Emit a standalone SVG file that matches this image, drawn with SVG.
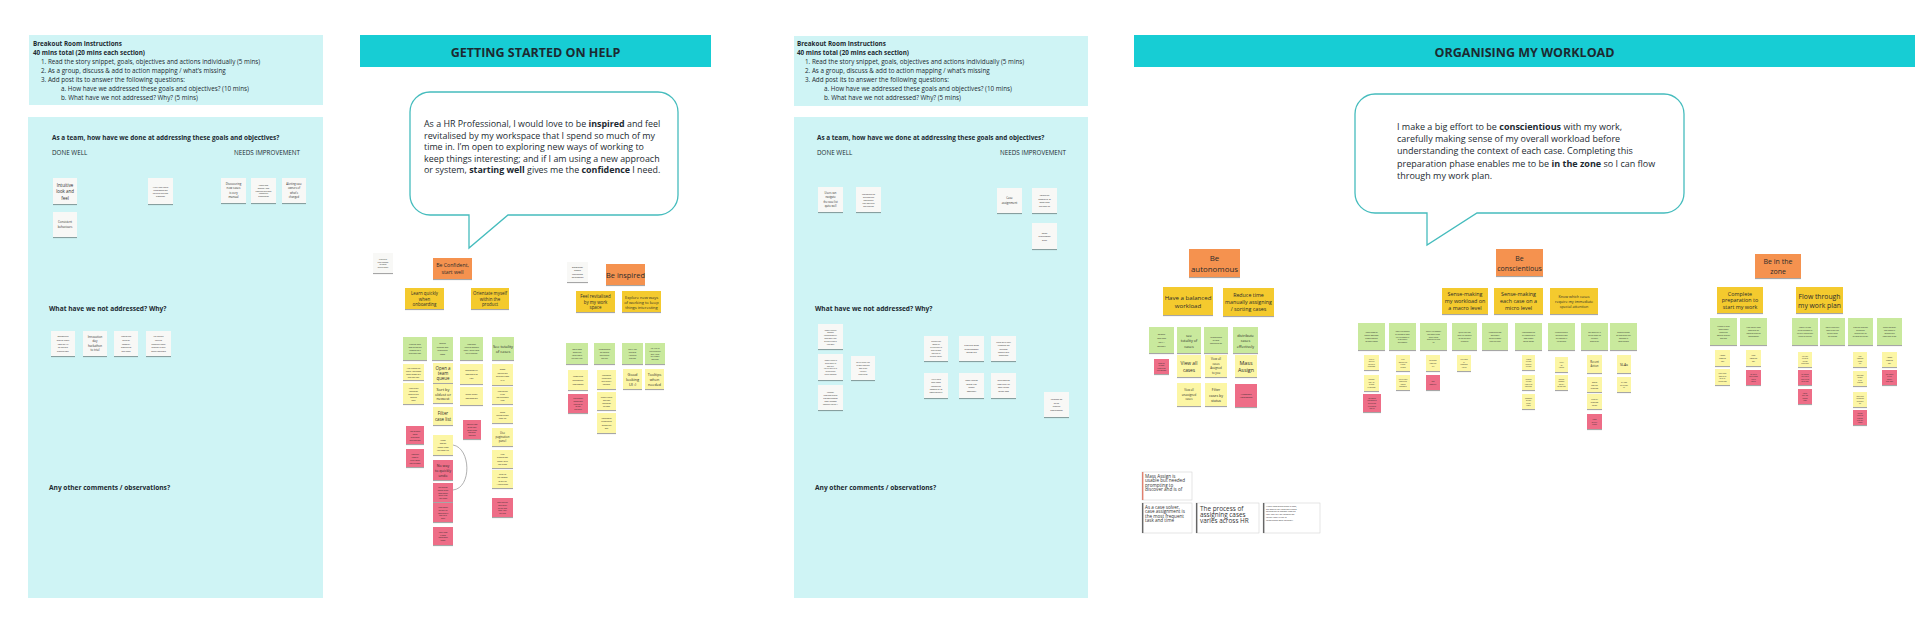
<svg xmlns="http://www.w3.org/2000/svg" width="1920" height="618" viewBox="0 0 1920 618">
<defs>
<filter id="sh" x="-30%" y="-30%" width="160%" height="170%"><feDropShadow dx="0" dy="1.1" stdDeviation="0.7" flood-color="#000" flood-opacity="0.35"/></filter>
<style>
text{font-family:"Open Sans","Noto Sans",sans-serif;fill:#1c2a31}
.b{font-weight:700}
.panel{fill:#cff4f5}
.banner{fill:#17cdd4}
.bub{fill:#fff;stroke:#45bcbd;stroke-width:1.3}
.n rect{filter:url(#sh)}
.n text{text-anchor:middle;dominant-baseline:central;fill:#2b2b2b}
.w{fill:#f8f8f6}
.o{fill:#f5924f}
.y{fill:#f4ca2e}
.g{fill:#c9e99d}
.p{fill:#fcf6a5}
.r{fill:#ee6d87}
.bn rect.box{fill:#fff;stroke:#d4d4d4;stroke-width:0.6}
.bn text{dominant-baseline:central;fill:#333}
.conn{fill:none;stroke:#9c9c9c;stroke-width:0.8}
</style>
</defs>
<rect width="1920" height="618" fill="#fff"/>

<!-- Panel 1 -->
<g id="panel1">
<rect class="panel" x="29" y="35" width="294" height="70"/>
<text font-size="6.3"><tspan class="b" x="33" y="46">Breakout Room Instructions</tspan><tspan class="b" x="33" y="55">40 mins total (20 mins each section)</tspan><tspan x="41" y="64">1. Read the story snippet, goals, objectives and actions individually (5 mins)</tspan><tspan x="41" y="73">2. As a group, discuss &amp; add to action mapping / what’s missing</tspan><tspan x="41" y="82">3. Add post its to answer the following questions:</tspan><tspan x="61" y="91">a. How have we addressed these goals and objectives? (10 mins)</tspan><tspan x="61" y="100">b. What have we not addressed? Why? (5 mins)</tspan></text>
<rect class="panel" x="28" y="117" width="295" height="481"/>
<text class="b" x="52" y="140.3" font-size="6.4">As a team, how have we done at addressing these goals and objectives?</text>
<text x="52" y="154.8" font-size="6.3">DONE WELL</text>
<text x="234" y="154.8" font-size="6.3">NEEDS IMPROVEMENT</text>
<text class="b" x="49" y="310.5" font-size="6.6">What have we not addressed? Why?</text>
<text class="b" x="49" y="489.9" font-size="6.6">Any other comments / observations?</text>
</g>

<g id="n1" class="n"><rect class="w" x="53" y="178" width="24" height="26"/><text x="65" y="184.5" font-size="4.4"><tspan x="65">Intuitive</tspan><tspan x="65" dy="6.5">look and</tspan><tspan x="65" dy="6.5">feel</tspan></text></g>
<g id="n2" class="n"><rect class="w" x="53" y="212" width="24" height="25"/><text x="65" y="222" font-size="2.8"><tspan x="65">Consistent</tspan><tspan x="65" dy="5">behaviours</tspan></text></g>
<g id="n3" class="n"><rect class="w" x="148" y="178" width="25" height="26"/><text x="160.5" y="186.5" font-size="2"><tspan x="160.5">HMW help users</tspan><tspan x="160.5" dy="3">understand the</tspan><tspan x="160.5" dy="3">value of the new</tspan><tspan x="160.5" dy="3">platform?</tspan></text></g>
<g id="n4" class="n"><rect class="w" x="221" y="178" width="25" height="25"/><text x="233.5" y="183.75" font-size="2.9"><tspan x="233.5">Discovering</tspan><tspan x="233.5" dy="4.5">new cases</tspan><tspan x="233.5" dy="4.5">is very</tspan><tspan x="233.5" dy="4.5">manual</tspan></text></g>
<g id="n5" class="n"><rect class="w" x="251" y="178" width="25" height="25"/><text x="263.5" y="184.9" font-size="1.8"><tspan x="263.5">Notice new</tspan><tspan x="263.5" dy="2.8">content / new</tspan><tspan x="263.5" dy="2.8">captured and need</tspan><tspan x="263.5" dy="2.8">removal of</tspan><tspan x="263.5" dy="2.8">investigation</tspan></text></g>
<g id="n6" class="n"><rect class="w" x="282" y="178" width="24" height="25"/><text x="294" y="184.05" font-size="2.6"><tspan x="294">Alerting case</tspan><tspan x="294" dy="4.3">owners of</tspan><tspan x="294" dy="4.3">what's</tspan><tspan x="294" dy="4.3">changed</tspan></text></g>
<g id="n7" class="n"><rect class="w" x="51" y="331" width="24" height="25"/><text x="63" y="336.1" font-size="2"><tspan x="63">Onboarding</tspan><tspan x="63" dy="3.7">overlay that's</tspan><tspan x="63" dy="3.7">used on HP</tspan><tspan x="63" dy="3.7">to use as a</tspan><tspan x="63" dy="3.7">product tour</tspan></text></g>
<g id="n8" class="n"><rect class="w" x="83" y="331" width="24" height="25"/><text x="95" y="336.75" font-size="2.9"><tspan x="95">Innovation</tspan><tspan x="95" dy="4.5">day</tspan><tspan x="95" dy="4.5">hackathon</tspan><tspan x="95" dy="4.5">to trial</tspan></text></g>
<g id="n9" class="n"><rect class="w" x="114" y="331" width="24" height="25"/><text x="126" y="336.1" font-size="2"><tspan x="126">Market the</tspan><tspan x="126" dy="3.7">value of</tspan><tspan x="126" dy="3.7">complex</tspan><tspan x="126" dy="3.7">features to</tspan><tspan x="126" dy="3.7">end users</tspan></text></g>
<g id="n10" class="n"><rect class="w" x="146" y="331" width="25" height="25"/><text x="158.5" y="336.3" font-size="1.9"><tspan x="158.5">Call out the</tspan><tspan x="158.5" dy="3.6">value of</tspan><tspan x="158.5" dy="3.6">seemingly small</tspan><tspan x="158.5" dy="3.6">features in their</tspan><tspan x="158.5" dy="3.6">overall workload</tspan></text></g>

<!-- Panel 2 -->
<g id="panel2">
<rect class="banner" x="360" y="35" width="351" height="32"/>
<text class="b" x="535.5" y="56.5" font-size="12.5" text-anchor="middle" fill="#1c2a31">GETTING STARTED ON HELP</text>
<path class="bub" d="M430,92 H658 A20,20 0 0 1 678,112 V195 A20,20 0 0 1 658,215 H508 L469,248 V215 H430 A20,20 0 0 1 410,195 V112 A20,20 0 0 1 430,92 Z"/>
<text font-size="8.9"><tspan x="424" y="127.4">As a HR Professional, I would love to be <tspan class="b">inspired</tspan> and feel</tspan><tspan x="424" y="139">revitalised by my workspace that I spend so much of my</tspan><tspan x="424" y="150.4">time in. I’m open to exploring new ways of working to</tspan><tspan x="424" y="161.8">keep things interesting; and if I am using a new approach</tspan><tspan x="424" y="173.1">or system, <tspan class="b">starting well</tspan> gives me the <tspan class="b">confidence</tspan> I need.</tspan></text>
</g>

<g id="n11" class="n"><rect class="w" x="373" y="253" width="20" height="20"/><text x="383" y="258.8" font-size="1.6"><tspan x="383">Lifecycle of</tspan><tspan x="383" dy="2.8">case/customer</tspan><tspan x="383" dy="2.8">as Design</tspan><tspan x="383" dy="2.8">service design</tspan></text></g>
<g id="n12" class="n"><rect class="o" x="433" y="258" width="39" height="21"/><text x="452.5" y="265.25" font-size="5.2"><tspan x="452.5">Be Confident,</tspan><tspan x="452.5" dy="6.5">start well</tspan></text></g>
<g id="n13" class="n"><rect class="y" x="405" y="288" width="39" height="21"/><text x="424.5" y="293" font-size="4.4"><tspan x="424.5">Learn quickly</tspan><tspan x="424.5" dy="5.5">when</tspan><tspan x="424.5" dy="5.5">onboarding</tspan></text></g>
<g id="n14" class="n"><rect class="y" x="471" y="288" width="38" height="21"/><text x="490" y="293" font-size="4.4"><tspan x="490">Orientate myself</tspan><tspan x="490" dy="5.5">within the</tspan><tspan x="490" dy="5.5">product</tspan></text></g>
<g id="n15" class="n"><rect class="w" x="567" y="262" width="21" height="20"/><text x="577.5" y="266.75" font-size="2.3"><tspan x="577.5">Emotional</tspan><tspan x="577.5" dy="3.5">design</tspan><tspan x="577.5" dy="3.5">influences</tspan><tspan x="577.5" dy="3.5">perception</tspan></text></g>
<g id="n16" class="n"><rect class="o" x="606" y="264" width="39" height="21"/><text x="625.5" y="274.5" font-size="7.4">Be inspired</text></g>
<g id="n17" class="n"><rect class="y" x="576" y="291" width="39" height="21"/><text x="595.5" y="296" font-size="4.4"><tspan x="595.5">Feel revitalised</tspan><tspan x="595.5" dy="5.5">by my work</tspan><tspan x="595.5" dy="5.5">space</tspan></text></g>
<g id="n18" class="n"><rect class="y" x="622" y="291" width="39" height="21"/><text x="641.5" y="296.5" font-size="4"><tspan x="641.5">Explore new ways</tspan><tspan x="641.5" dy="5">of working to keep</tspan><tspan x="641.5" dy="5">things interesting</tspan></text></g>
<g id="n19" class="n"><rect class="g" x="403" y="337" width="24" height="23"/><text x="415" y="343.55" font-size="1.9"><tspan x="415">Need to learn</tspan><tspan x="415" dy="3.3">how to use the</tspan><tspan x="415" dy="3.3">product as a</tspan><tspan x="415" dy="3.3">first time user</tspan></text></g>
<g id="n20" class="n"><rect class="g" x="432" y="337" width="21" height="23"/><text x="442.5" y="343.25" font-size="2"><tspan x="442.5">Sorting</tspan><tspan x="442.5" dy="3.5">through and</tspan><tspan x="442.5" dy="3.5">prioritising</tspan><tspan x="442.5" dy="3.5">cases</tspan></text></g>
<g id="n21" class="n"><rect class="g" x="460" y="337" width="23" height="23"/><text x="471.5" y="344" font-size="1.7"><tspan x="471.5">Know what</tspan><tspan x="471.5" dy="3">I need to complete</tspan><tspan x="471.5" dy="3">today / which cases</tspan><tspan x="471.5" dy="3">are in progress</tspan></text></g>
<g id="n22" class="n"><rect class="g" x="492" y="337" width="22" height="23"/><text x="503" y="346" font-size="3.9"><tspan x="503">See totality</tspan><tspan x="503" dy="5">of cases</tspan></text></g>
<g id="n23" class="n"><rect class="p" x="403" y="364" width="21" height="16"/><text x="413.5" y="367.5" font-size="1.8"><tspan x="413.5">Hint: change the</tspan><tspan x="413.5" dy="3">layout / navigation</tspan><tspan x="413.5" dy="3">when shown to a</tspan><tspan x="413.5" dy="3">first time user</tspan></text></g>
<g id="n24" class="n"><rect class="p" x="403" y="383" width="21" height="21"/><text x="413.5" y="387.5" font-size="1.8"><tspan x="413.5">View layout</tspan><tspan x="413.5" dy="3">navigation</tspan><tspan x="413.5" dy="3">when on the</tspan><tspan x="413.5" dy="3">settings</tspan><tspan x="413.5" dy="3">page</tspan></text></g>
<g id="n25" class="n"><rect class="r" x="406" y="426" width="18" height="18"/><text x="415" y="430.5" font-size="1.8"><tspan x="415">Not obvious</tspan><tspan x="415" dy="3">cases</tspan><tspan x="415" dy="3">prioritised</tspan><tspan x="415" dy="3">and archived</tspan></text></g>
<g id="n26" class="n"><rect class="r" x="406" y="449" width="18" height="18"/><text x="415" y="453.5" font-size="1.8"><tspan x="415">Assigning</tspan><tspan x="415" dy="3">cases is</tspan><tspan x="415" dy="3">tricky when</tspan><tspan x="415" dy="3">not reviewed</tspan></text></g>
<g id="n27" class="n"><rect class="p" x="433" y="363" width="20" height="20"/><text x="443" y="367.8" font-size="4.4"><tspan x="443">Open a</tspan><tspan x="443" dy="5.2">team</tspan><tspan x="443" dy="5.2">queue</tspan></text></g>
<g id="n28" class="n"><rect class="p" x="433" y="384" width="20" height="19"/><text x="443" y="388.7" font-size="3.9"><tspan x="443">Sort by</tspan><tspan x="443" dy="4.8">oldest or</tspan><tspan x="443" dy="4.8">newest</tspan></text></g>
<g id="n29" class="n"><rect class="p" x="433" y="407" width="20" height="18"/><text x="443" y="413.25" font-size="4.4"><tspan x="443">Filter</tspan><tspan x="443" dy="5.5">case list</tspan></text></g>
<g id="n30" class="n"><rect class="p" x="433" y="435" width="20" height="20"/><text x="443" y="439.75" font-size="2.2"><tspan x="443">Mass</tspan><tspan x="443" dy="3.5">assign</tspan><tspan x="443" dy="3.5">cases from</tspan><tspan x="443" dy="3.5">the case list</tspan></text></g>
<g id="n31" class="n"><rect class="r" x="433" y="460" width="20" height="20"/><text x="443" y="465.4" font-size="3.6"><tspan x="443">No way</tspan><tspan x="443" dy="4.6">to quickly</tspan><tspan x="443" dy="4.6">undo</tspan></text></g>
<g id="n32" class="n"><rect class="r" x="433" y="483" width="20" height="19"/><text x="443" y="486.9" font-size="1.7"><tspan x="443">Not enough</tspan><tspan x="443" dy="2.8">control of the</tspan><tspan x="443" dy="2.8">mass assign</tspan><tspan x="443" dy="2.8">which is for</tspan><tspan x="443" dy="2.8">rare cases</tspan></text></g>
<g id="n33" class="n"><rect class="r" x="433" y="503" width="20" height="19"/><text x="443" y="506.9" font-size="1.7"><tspan x="443">Mass assign</tspan><tspan x="443" dy="2.8">can only be</tspan><tspan x="443" dy="2.8">done when a</tspan><tspan x="443" dy="2.8">case list is</tspan><tspan x="443" dy="2.8">open</tspan></text></g>
<g id="n34" class="n"><rect class="r" x="433" y="527" width="20" height="18"/><text x="443" y="531.8" font-size="1.7"><tspan x="443">Can't undo</tspan><tspan x="443" dy="2.8">a mass</tspan><tspan x="443" dy="2.8">assignment</tspan><tspan x="443" dy="2.8">action</tspan></text></g>
<g id="n35" class="n"><rect class="p" x="460" y="364" width="23" height="20"/><text x="471.5" y="370.2" font-size="2.3"><tspan x="471.5">Segment by</tspan><tspan x="471.5" dy="3.8">assigned to</tspan><tspan x="471.5" dy="3.8">you</tspan></text></g>
<g id="n36" class="n"><rect class="p" x="460" y="387" width="23" height="18"/><text x="471.5" y="394.1" font-size="2.3"><tspan x="471.5">Read inbox</tspan><tspan x="471.5" dy="3.8">notification</tspan></text></g>
<g id="n37" class="n"><rect class="r" x="463" y="420" width="18" height="19"/><text x="472" y="423.9" font-size="1.7"><tspan x="472">Not sure how</tspan><tspan x="472" dy="2.8">to get back</tspan><tspan x="472" dy="2.8">to see items</tspan><tspan x="472" dy="2.8">that were</tspan><tspan x="472" dy="2.8">assigned</tspan></text></g>
<g id="n38" class="n"><rect class="p" x="492" y="364" width="21" height="21"/><text x="502.5" y="369.1" font-size="2.2"><tspan x="502.5">Show</tspan><tspan x="502.5" dy="3.6">counts on</tspan><tspan x="502.5" dy="3.6">queues from</tspan><tspan x="502.5" dy="3.6">LHP</tspan></text></g>
<g id="n39" class="n"><rect class="p" x="492" y="387" width="21" height="17"/><text x="502.5" y="391" font-size="1.8"><tspan x="502.5">View counts</tspan><tspan x="502.5" dy="3">in the</tspan><tspan x="502.5" dy="3">top navigation</tspan><tspan x="502.5" dy="3">view</tspan></text></g>
<g id="n40" class="n"><rect class="p" x="492" y="407" width="21" height="16"/><text x="502.5" y="411.6" font-size="2"><tspan x="502.5">Show</tspan><tspan x="502.5" dy="3.4">counts above</tspan><tspan x="502.5" dy="3.4">case list</tspan></text></g>
<g id="n41" class="n"><rect class="p" x="492" y="428" width="21" height="18"/><text x="502.5" y="432.8" font-size="2.8"><tspan x="502.5">Use</tspan><tspan x="502.5" dy="4.2">pagination</tspan><tspan x="502.5" dy="4.2">panel</tspan></text></g>
<g id="n42" class="n"><rect class="p" x="492" y="450" width="21" height="18"/><text x="502.5" y="453.75" font-size="2.2"><tspan x="502.5">Use</tspan><tspan x="502.5" dy="3.5">pagination</tspan><tspan x="502.5" dy="3.5">panel with</tspan><tspan x="502.5" dy="3.5">last page</tspan></text></g>
<g id="n43" class="n"><rect class="p" x="492" y="470" width="21" height="18"/><text x="502.5" y="474.2" font-size="1.9"><tspan x="502.5">Scroll to</tspan><tspan x="502.5" dy="3.2">the bottom</tspan><tspan x="502.5" dy="3.2">of the list</tspan><tspan x="502.5" dy="3.2">/ Count page</tspan></text></g>
<g id="n44" class="n"><rect class="r" x="492" y="498" width="21" height="19"/><text x="502.5" y="501.9" font-size="1.7"><tspan x="502.5">Don't see the</tspan><tspan x="502.5" dy="2.8">total count</tspan><tspan x="502.5" dy="2.8">on the case</tspan><tspan x="502.5" dy="2.8">page / only</tspan><tspan x="502.5" dy="2.8">per view</tspan></text></g>
<g id="n45" class="n"><rect class="g" x="566" y="343" width="22" height="21"/><text x="577" y="349" font-size="1.7"><tspan x="577">Lots of good</tspan><tspan x="577" dy="3">design and</tspan><tspan x="577" dy="3">use of colour</tspan><tspan x="577" dy="3">are really nice</tspan></text></g>
<g id="n46" class="n"><rect class="g" x="594" y="343" width="21" height="21"/><text x="604.5" y="349" font-size="1.7"><tspan x="604.5">Understanding</tspan><tspan x="604.5" dy="3">the product</tspan><tspan x="604.5" dy="3">overview on</tspan><tspan x="604.5" dy="3">first visit</tspan></text></g>
<g id="n47" class="n"><rect class="g" x="622" y="343" width="21" height="21"/><text x="632.5" y="349" font-size="1.7"><tspan x="632.5">See if I can</tspan><tspan x="632.5" dy="3">find what</tspan><tspan x="632.5" dy="3">I need the</tspan><tspan x="632.5" dy="3">first time</tspan></text></g>
<g id="n48" class="n"><rect class="g" x="645" y="343" width="20" height="21"/><text x="655" y="347.9" font-size="1.6"><tspan x="655">Am I able to</tspan><tspan x="655" dy="2.8">find and search</tspan><tspan x="655" dy="2.8">what I need</tspan><tspan x="655" dy="2.8">for a simple</tspan><tspan x="655" dy="2.8">workflow</tspan></text></g>
<g id="n49" class="n"><rect class="p" x="568" y="370" width="20" height="20"/><text x="578" y="376.4" font-size="2"><tspan x="578">Contextual</tspan><tspan x="578" dy="3.6">onboarding</tspan><tspan x="578" dy="3.6">information</tspan></text></g>
<g id="n50" class="n"><rect class="r" x="568" y="394" width="20" height="19"/><text x="578" y="397.9" font-size="1.7"><tspan x="578">The product</tspan><tspan x="578" dy="2.8">onboarding</tspan><tspan x="578" dy="2.8">requires us</tspan><tspan x="578" dy="2.8">to test</tspan><tspan x="578" dy="2.8">and learn</tspan></text></g>
<g id="n51" class="n"><rect class="p" x="597" y="370" width="19" height="19"/><text x="606.5" y="375" font-size="1.8"><tspan x="606.5">Consistent</tspan><tspan x="606.5" dy="3">behaviours</tspan><tspan x="606.5" dy="3">and visually</tspan><tspan x="606.5" dy="3">cohesive</tspan></text></g>
<g id="n52" class="n"><rect class="p" x="597" y="392" width="19" height="18"/><text x="606.5" y="396.5" font-size="1.8"><tspan x="606.5">Simple layout</tspan><tspan x="606.5" dy="3">with fast</tspan><tspan x="606.5" dy="3">navigation</tspan><tspan x="606.5" dy="3">to cases</tspan></text></g>
<g id="n53" class="n"><rect class="p" x="597" y="413" width="19" height="20"/><text x="606.5" y="417.9" font-size="2"><tspan x="606.5">Consistent</tspan><tspan x="606.5" dy="3.4">behaviours</tspan><tspan x="606.5" dy="3.4">across the</tspan><tspan x="606.5" dy="3.4">app</tspan></text></g>
<g id="n54" class="n"><rect class="p" x="623" y="369" width="19" height="20"/><text x="632.5" y="374.3" font-size="3.9"><tspan x="632.5">Good</tspan><tspan x="632.5" dy="4.7">looking</tspan><tspan x="632.5" dy="4.7">UI :)</tspan></text></g>
<g id="n55" class="n"><rect class="p" x="645" y="369" width="19" height="20"/><text x="654.5" y="374.3" font-size="3.7"><tspan x="654.5">Tooltips</tspan><tspan x="654.5" dy="4.7">when</tspan><tspan x="654.5" dy="4.7">needed</tspan></text></g>

<!-- Panel 3 -->
<g id="panel3">
<rect class="panel" x="794" y="36" width="294" height="70"/>
<text font-size="6.3"><tspan class="b" x="797" y="46">Breakout Room Instructions</tspan><tspan class="b" x="797" y="55">40 mins total (20 mins each section)</tspan><tspan x="805" y="64">1. Read the story snippet, goals, objectives and actions individually (5 mins)</tspan><tspan x="805" y="73">2. As a group, discuss &amp; add to action mapping / what’s missing</tspan><tspan x="805" y="82">3. Add post its to answer the following questions:</tspan><tspan x="824" y="91">a. How have we addressed these goals and objectives? (10 mins)</tspan><tspan x="824" y="100">b. What have we not addressed? Why? (5 mins)</tspan></text>
<rect class="panel" x="794" y="117" width="294" height="481"/>
<text class="b" x="817" y="140.3" font-size="6.4">As a team, how have we done at addressing these goals and objectives?</text>
<text x="817" y="154.6" font-size="6.3">DONE WELL</text>
<text x="1000" y="154.6" font-size="6.3">NEEDS IMPROVEMENT</text>
<text class="b" x="815" y="310.5" font-size="6.6">What have we not addressed? Why?</text>
<text class="b" x="815" y="489.9" font-size="6.6">Any other comments / observations?</text>
</g>

<g id="n56" class="n"><rect class="w" x="818" y="187" width="25" height="25"/><text x="830.5" y="193.2" font-size="2.6"><tspan x="830.5">Users can</tspan><tspan x="830.5" dy="4.2">navigate</tspan><tspan x="830.5" dy="4.2">the case list</tspan><tspan x="830.5" dy="4.2">quite well</tspan></text></g>
<g id="n57" class="n"><rect class="w" x="856" y="187" width="25" height="25"/><text x="868.5" y="193.5" font-size="1.7"><tspan x="868.5">Case owners can</tspan><tspan x="868.5" dy="3">find cases and</tspan><tspan x="868.5" dy="3">flow through</tspan><tspan x="868.5" dy="3">their work plan</tspan><tspan x="868.5" dy="3">with ease too</tspan></text></g>
<g id="n58" class="n"><rect class="w" x="997" y="188" width="25" height="25"/><text x="1009.5" y="198.25" font-size="2.9"><tspan x="1009.5">Case</tspan><tspan x="1009.5" dy="4.5">assignment</tspan></text></g>
<g id="n59" class="n"><rect class="w" x="1032" y="188" width="25" height="25"/><text x="1044.5" y="195.25" font-size="2"><tspan x="1044.5">Identifying</tspan><tspan x="1044.5" dy="3.5">complexity of</tspan><tspan x="1044.5" dy="3.5">cases from</tspan><tspan x="1044.5" dy="3.5">the case list</tspan></text></g>
<g id="n60" class="n"><rect class="w" x="1032" y="223" width="25" height="26"/><text x="1044.5" y="232.5" font-size="2"><tspan x="1044.5">Smart</tspan><tspan x="1044.5" dy="3.5">prioritisation</tspan><tspan x="1044.5" dy="3.5">order</tspan></text></g>
<g id="n61" class="n"><rect class="w" x="818" y="324" width="25" height="25"/><text x="830.5" y="329.5" font-size="1.5"><tspan x="830.5">Agnostic lenses of</tspan><tspan x="830.5" dy="2.8">workload</tspan><tspan x="830.5" dy="2.8">Managing goals by</tspan><tspan x="830.5" dy="2.8">workflow &amp; tasks</tspan><tspan x="830.5" dy="2.8">Existing system to</tspan><tspan x="830.5" dy="2.8">track work</tspan></text></g>
<g id="n62" class="n"><rect class="w" x="818" y="354" width="25" height="26"/><text x="830.5" y="360" font-size="1.5"><tspan x="830.5">Agnostic lenses to</tspan><tspan x="830.5" dy="2.8">decide where to</tspan><tspan x="830.5" dy="2.8">work next</tspan><tspan x="830.5" dy="2.8">Use the case list as</tspan><tspan x="830.5" dy="2.8">an overview of</tspan><tspan x="830.5" dy="2.8">current workload</tspan></text></g>
<g id="n63" class="n"><rect class="w" x="818" y="385" width="25" height="25"/><text x="830.5" y="391.5" font-size="1.7"><tspan x="830.5">Manager</tspan><tspan x="830.5" dy="3">resolution should</tspan><tspan x="830.5" dy="3">also work towards</tspan><tspan x="830.5" dy="3">fewer handoffs</tspan><tspan x="830.5" dy="3">especially for tier 1</tspan></text></g>
<g id="n64" class="n"><rect class="w" x="851" y="356" width="24" height="24"/><text x="863" y="362" font-size="1.5"><tspan x="863">See the easiest task</tspan><tspan x="863" dy="3">or most rewarding</tspan><tspan x="863" dy="3">work to do?</tspan><tspan x="863" dy="3">Help with</tspan><tspan x="863" dy="3">prioritisation</tspan></text></g>
<g id="n65" class="n"><rect class="w" x="924" y="336" width="24" height="25"/><text x="936" y="341.25" font-size="1.5"><tspan x="936">Guidance and</tspan><tspan x="936" dy="2.9">looking for</tspan><tspan x="936" dy="2.9">different ways to</tspan><tspan x="936" dy="2.9">prioritise work</tspan><tspan x="936" dy="2.9">flow: case list</tspan><tspan x="936" dy="2.9">business urgency</tspan></text></g>
<g id="n66" class="n"><rect class="w" x="959" y="336" width="25" height="25"/><text x="971.5" y="344.7" font-size="2.3"><tspan x="971.5">Find out what</tspan><tspan x="971.5" dy="3.8">prioritisation</tspan><tspan x="971.5" dy="3.8">needs are</tspan></text></g>
<g id="n67" class="n"><rect class="w" x="991" y="336" width="25" height="25"/><text x="1003.5" y="341.7" font-size="2.1"><tspan x="1003.5">Links with user</tspan><tspan x="1003.5" dy="3.4">feedback on</tspan><tspan x="1003.5" dy="3.4">needing</tspan><tspan x="1003.5" dy="3.4">signals and</tspan><tspan x="1003.5" dy="3.4">indicators</tspan></text></g>
<g id="n68" class="n"><rect class="w" x="924" y="373" width="24" height="25"/><text x="936" y="378.7" font-size="2"><tspan x="936">HMW help</tspan><tspan x="936" dy="3.4">with users</tspan><tspan x="936" dy="3.4">identifying</tspan><tspan x="936" dy="3.4">complexity of</tspan><tspan x="936" dy="3.4">cases quickly?</tspan></text></g>
<g id="n69" class="n"><rect class="w" x="959" y="373" width="25" height="25"/><text x="971.5" y="379.8" font-size="2.3"><tspan x="971.5">Case linking</tspan><tspan x="971.5" dy="3.8">might link</tspan><tspan x="971.5" dy="3.8">these</tspan><tspan x="971.5" dy="3.8">together</tspan></text></g>
<g id="n70" class="n"><rect class="w" x="991" y="373" width="25" height="25"/><text x="1003.5" y="380.1" font-size="2.1"><tspan x="1003.5">Determining</tspan><tspan x="1003.5" dy="3.6">from case list</tspan><tspan x="1003.5" dy="3.6">what needs</tspan><tspan x="1003.5" dy="3.6">action now</tspan></text></g>
<g id="n71" class="n"><rect class="w" x="1044" y="392" width="25" height="25"/><text x="1056.5" y="399.25" font-size="2"><tspan x="1056.5">Leverage SG</tspan><tspan x="1056.5" dy="3.5">as big</tspan><tspan x="1056.5" dy="3.5">product</tspan><tspan x="1056.5" dy="3.5">differentiator</tspan></text></g>

<!-- Panel 4 -->
<g id="panel4">
<rect class="banner" x="1134" y="35" width="781" height="32"/>
<text class="b" x="1524.5" y="56.5" font-size="12.5" text-anchor="middle">ORGANISING MY WORKLOAD</text>
<path class="bub" d="M1375,94 H1664 A20,20 0 0 1 1684,114 V193 A20,20 0 0 1 1664,213 H1477 L1427,245 V213 H1375 A20,20 0 0 1 1355,193 V114 A20,20 0 0 1 1375,94 Z"/>
<text font-size="9"><tspan x="1397" y="129.9">I make a big effort to be <tspan class="b">conscientious</tspan> with my work,</tspan><tspan x="1397" y="142.2">carefully making sense of my overall workload before</tspan><tspan x="1397" y="154.4">understanding the context of each case. Completing this</tspan><tspan x="1397" y="166.7">preparation phase enables me to be <tspan class="b">in the zone</tspan> so I can flow</tspan><tspan x="1397" y="179">through my work plan.</tspan></text>
</g>

<g id="n72" class="n"><rect class="o" x="1189" y="249" width="51" height="28"/><text x="1214.5" y="257.5" font-size="7.9"><tspan x="1214.5">Be</tspan><tspan x="1214.5" dy="11">autonomous</tspan></text></g>
<g id="n73" class="n"><rect class="y" x="1163" y="287" width="50" height="28"/><text x="1188" y="297.25" font-size="6.1"><tspan x="1188">Have a balanced</tspan><tspan x="1188" dy="7.5">workload</tspan></text></g>
<g id="n74" class="n"><rect class="y" x="1223" y="288" width="51" height="28"/><text x="1248.5" y="294.8" font-size="5.3"><tspan x="1248.5">Reduce time</tspan><tspan x="1248.5" dy="7.2">manually assigning</tspan><tspan x="1248.5" dy="7.2">/ sorting cases</tspan></text></g>
<g id="n75" class="n"><rect class="g" x="1149" y="327" width="25" height="26"/><text x="1161.5" y="334.3" font-size="2"><tspan x="1161.5">Balance</tspan><tspan x="1161.5" dy="3.8">case load</tspan><tspan x="1161.5" dy="3.8">fairly /</tspan><tspan x="1161.5" dy="3.8">equitably</tspan></text></g>
<g id="n76" class="n"><rect class="g" x="1177" y="327" width="24" height="26"/><text x="1189" y="334.5" font-size="3.7"><tspan x="1189">see</tspan><tspan x="1189" dy="5.5">totality of</tspan><tspan x="1189" dy="5.5">cases</tspan></text></g>
<g id="n77" class="n"><rect class="g" x="1204" y="327" width="24" height="26"/><text x="1216" y="337" font-size="1.7"><tspan x="1216">Understanding</tspan><tspan x="1216" dy="3">of cases</tspan><tspan x="1216" dy="3">assigned to me</tspan></text></g>
<g id="n78" class="n"><rect class="g" x="1233" y="327" width="25" height="26"/><text x="1245.5" y="334.5" font-size="3.7"><tspan x="1245.5">distribute</tspan><tspan x="1245.5" dy="5.5">cases</tspan><tspan x="1245.5" dy="5.5">effectively</tspan></text></g>
<g id="n79" class="n"><rect class="r" x="1154" y="359" width="15" height="15"/><text x="1161.5" y="362.9" font-size="1.4"><tspan x="1161.5">Important</tspan><tspan x="1161.5" dy="2.4">for some</tspan><tspan x="1161.5" dy="2.4">teams to see</tspan><tspan x="1161.5" dy="2.4">their workload</tspan></text></g>
<g id="n80" class="n"><rect class="p" x="1177" y="355" width="24" height="22"/><text x="1189" y="362.5" font-size="4.8"><tspan x="1189">View all</tspan><tspan x="1189" dy="7">cases</tspan></text></g>
<g id="n81" class="n"><rect class="p" x="1205" y="355" width="22" height="22"/><text x="1216" y="359.4" font-size="2.8"><tspan x="1216">View all</tspan><tspan x="1216" dy="4.4">cases</tspan><tspan x="1216" dy="4.4">Assigned</tspan><tspan x="1216" dy="4.4">to you</tspan></text></g>
<g id="n82" class="n"><rect class="p" x="1235" y="355" width="22" height="22"/><text x="1246" y="362.5" font-size="5.4"><tspan x="1246">Mass</tspan><tspan x="1246" dy="7">Assign</tspan></text></g>
<g id="n83" class="n"><rect class="p" x="1177" y="383" width="24" height="23"/><text x="1189" y="390.3" font-size="2.7"><tspan x="1189">View all</tspan><tspan x="1189" dy="4.2">unassigned</tspan><tspan x="1189" dy="4.2">cases</tspan></text></g>
<g id="n84" class="n"><rect class="p" x="1205" y="383" width="22" height="23"/><text x="1216" y="389.2" font-size="3.6"><tspan x="1216">Filter</tspan><tspan x="1216" dy="5.3">cases by</tspan><tspan x="1216" dy="5.3">status</tspan></text></g>
<g id="n85" class="n"><rect class="r" x="1235" y="384" width="22" height="23"/><text x="1246" y="393.7" font-size="2.3"><tspan x="1246">Automatic</tspan><tspan x="1246" dy="3.6">Assignment</tspan></text></g>
<g id="n86" class="n"><rect class="o" x="1496" y="249" width="47" height="27"/><text x="1519.5" y="257.5" font-size="7"><tspan x="1519.5">Be</tspan><tspan x="1519.5" dy="10">conscientious</tspan></text></g>
<g id="n87" class="n"><rect class="y" x="1442" y="288" width="46" height="26"/><text x="1465" y="294" font-size="5.4"><tspan x="1465">Sense-making</tspan><tspan x="1465" dy="7">my workload on</tspan><tspan x="1465" dy="7">a macro level</tspan></text></g>
<g id="n88" class="n"><rect class="y" x="1494" y="288" width="49" height="26"/><text x="1518.5" y="294" font-size="5.4"><tspan x="1518.5">Sense-making</tspan><tspan x="1518.5" dy="7">each case on a</tspan><tspan x="1518.5" dy="7">micro level</tspan></text></g>
<g id="n89" class="n"><rect class="y" x="1550" y="288" width="48" height="26"/><text x="1574" y="296" font-size="3.7"><tspan x="1574">Know which cases</tspan><tspan x="1574" dy="5">require my immediate</tspan><tspan x="1574" dy="5">special attention</tspan></text></g>
<g id="n90" class="n"><rect class="g" x="1358" y="323" width="27" height="27"/><text x="1371.5" y="331.55" font-size="1.8"><tspan x="1371.5">Make sense of</tspan><tspan x="1371.5" dy="3.3">overall workload</tspan><tspan x="1371.5" dy="3.3">before starting</tspan><tspan x="1371.5" dy="3.3">to tackle cases</tspan></text></g>
<g id="n91" class="n"><rect class="g" x="1389" y="323" width="27" height="27"/><text x="1402.5" y="330.7" font-size="1.6"><tspan x="1402.5">Identifying pockets</tspan><tspan x="1402.5" dy="2.9">or volumes of work</tspan><tspan x="1402.5" dy="2.9">that are coming in</tspan><tspan x="1402.5" dy="2.9">to my overall</tspan><tspan x="1402.5" dy="2.9">environment</tspan></text></g>
<g id="n92" class="n"><rect class="g" x="1420" y="323" width="27" height="27"/><text x="1433.5" y="330.7" font-size="1.6"><tspan x="1433.5">Identify the complex</tspan><tspan x="1433.5" dy="2.9">and simple cases</tspan><tspan x="1433.5" dy="2.9">quickly when</tspan><tspan x="1433.5" dy="2.9">scanning the case</tspan><tspan x="1433.5" dy="2.9">list</tspan></text></g>
<g id="n93" class="n"><rect class="g" x="1452" y="323" width="25" height="27"/><text x="1464.5" y="332.15" font-size="1.6"><tspan x="1464.5">Quickly see how</tspan><tspan x="1464.5" dy="2.9">many are assigned</tspan><tspan x="1464.5" dy="2.9">for me and what</tspan><tspan x="1464.5" dy="2.9">is pending</tspan></text></g>
<g id="n94" class="n"><rect class="g" x="1482" y="323" width="26" height="27"/><text x="1495" y="332.15" font-size="1.6"><tspan x="1495">Understand how</tspan><tspan x="1495" dy="2.9">workflow is</tspan><tspan x="1495" dy="2.9">spread between</tspan><tspan x="1495" dy="2.9">case and team</tspan></text></g>
<g id="n95" class="n"><rect class="g" x="1515" y="323" width="27" height="27"/><text x="1528.5" y="331.55" font-size="1.8"><tspan x="1528.5">Understand the</tspan><tspan x="1528.5" dy="3.3">full context of a</tspan><tspan x="1528.5" dy="3.3">case before</tspan><tspan x="1528.5" dy="3.3">taking action</tspan></text></g>
<g id="n96" class="n"><rect class="g" x="1548" y="323" width="27" height="27"/><text x="1561.5" y="332.15" font-size="1.6"><tspan x="1561.5">Understand what</tspan><tspan x="1561.5" dy="2.9">managers cases</tspan><tspan x="1561.5" dy="2.9">are assigned by</tspan><tspan x="1561.5" dy="2.9">the manager</tspan></text></g>
<g id="n97" class="n"><rect class="g" x="1581" y="323" width="27" height="27"/><text x="1594.5" y="331.7" font-size="1.7"><tspan x="1594.5">See where SLA's</tspan><tspan x="1594.5" dy="3.2">are on cases I'm</tspan><tspan x="1594.5" dy="3.2">currently</tspan><tspan x="1594.5" dy="3.2">working on</tspan></text></g>
<g id="n98" class="n"><rect class="g" x="1610" y="323" width="27" height="27"/><text x="1623.5" y="331.7" font-size="1.7"><tspan x="1623.5">Observe signals</tspan><tspan x="1623.5" dy="3.2">on case where any</tspan><tspan x="1623.5" dy="3.2">attention is</tspan><tspan x="1623.5" dy="3.2">most needed</tspan></text></g>
<g id="n99" class="n"><rect class="p" x="1364" y="355" width="15" height="15"/><text x="1371.5" y="358.75" font-size="1.4"><tspan x="1371.5">Filter by</tspan><tspan x="1371.5" dy="2.5">status to</tspan><tspan x="1371.5" dy="2.5">see active</tspan><tspan x="1371.5" dy="2.5">breakdown</tspan></text></g>
<g id="n100" class="n"><rect class="p" x="1364" y="375" width="15" height="16"/><text x="1371.5" y="379.25" font-size="1.4"><tspan x="1371.5">Grouped</tspan><tspan x="1371.5" dy="2.5">view / list</tspan><tspan x="1371.5" dy="2.5">of cases</tspan><tspan x="1371.5" dy="2.5">by workflow</tspan></text></g>
<g id="n101" class="n"><rect class="r" x="1363" y="394" width="18" height="18"/><text x="1372" y="397.8" font-size="1.4"><tspan x="1372">Not enough</tspan><tspan x="1372" dy="2.6">information to</tspan><tspan x="1372" dy="2.6">see patterns</tspan><tspan x="1372" dy="2.6">in the overall</tspan><tspan x="1372" dy="2.6">case list</tspan></text></g>
<g id="n102" class="n"><rect class="p" x="1396" y="355" width="14" height="16"/><text x="1403" y="359.25" font-size="1.4"><tspan x="1403">Filter</tspan><tspan x="1403" dy="2.5">manually not</tspan><tspan x="1403" dy="2.5">a visual</tspan><tspan x="1403" dy="2.5">of cases</tspan></text></g>
<g id="n103" class="n"><rect class="p" x="1396" y="375" width="14" height="15"/><text x="1403" y="378.75" font-size="1.4"><tspan x="1403">Filter by both</tspan><tspan x="1403" dy="2.5">general and</tspan><tspan x="1403" dy="2.5">team or</tspan><tspan x="1403" dy="2.5">assignment</tspan></text></g>
<g id="n104" class="n"><rect class="p" x="1426" y="355" width="14" height="16"/><text x="1433" y="360.4" font-size="1.5"><tspan x="1433">Determine</tspan><tspan x="1433" dy="2.6">from case</tspan><tspan x="1433" dy="2.6">title</tspan></text></g>
<g id="n105" class="n"><rect class="r" x="1426" y="375" width="14" height="15"/><text x="1433" y="381.25" font-size="1.4"><tspan x="1433">Case</tspan><tspan x="1433" dy="2.5">complexity</tspan></text></g>
<g id="n106" class="n"><rect class="p" x="1457" y="355" width="14" height="16"/><text x="1464" y="359.25" font-size="1.4"><tspan x="1464">Filter cases</tspan><tspan x="1464" dy="2.5">by</tspan><tspan x="1464" dy="2.5">unassigned</tspan><tspan x="1464" dy="2.5">/ status</tspan></text></g>
<g id="n107" class="n"><rect class="p" x="1522" y="355" width="13" height="15"/><text x="1528.5" y="358.75" font-size="1.4"><tspan x="1528.5">Viewing</tspan><tspan x="1528.5" dy="2.5">the case</tspan><tspan x="1528.5" dy="2.5">details in</tspan><tspan x="1528.5" dy="2.5">the case</tspan></text></g>
<g id="n108" class="n"><rect class="p" x="1522" y="375" width="13" height="15"/><text x="1528.5" y="378.75" font-size="1.4"><tspan x="1528.5">Changing</tspan><tspan x="1528.5" dy="2.5">the case</tspan><tspan x="1528.5" dy="2.5">types in the</tspan><tspan x="1528.5" dy="2.5">case panel</tspan></text></g>
<g id="n109" class="n"><rect class="p" x="1522" y="394" width="13" height="15"/><text x="1528.5" y="397.75" font-size="1.4"><tspan x="1528.5">Comments</tspan><tspan x="1528.5" dy="2.5">on case</tspan><tspan x="1528.5" dy="2.5">history</tspan><tspan x="1528.5" dy="2.5">record</tspan></text></g>
<g id="n110" class="n"><rect class="p" x="1555" y="357" width="13" height="15"/><text x="1561.5" y="362" font-size="1.4"><tspan x="1561.5">Activity</tspan><tspan x="1561.5" dy="2.5">on</tspan><tspan x="1561.5" dy="2.5">timeline</tspan></text></g>
<g id="n111" class="n"><rect class="p" x="1555" y="375" width="13" height="15"/><text x="1561.5" y="378.75" font-size="1.4"><tspan x="1561.5">Detailed</tspan><tspan x="1561.5" dy="2.5">summary</tspan><tspan x="1561.5" dy="2.5">and SLA</tspan><tspan x="1561.5" dy="2.5">on case view</tspan></text></g>
<g id="n112" class="n"><rect class="p" x="1587" y="355" width="15" height="18"/><text x="1594.5" y="361.9" font-size="2.7"><tspan x="1594.5">Recent</tspan><tspan x="1594.5" dy="4.2">Action</tspan></text></g>
<g id="n113" class="n"><rect class="p" x="1587" y="377" width="15" height="15"/><text x="1594.5" y="381.5" font-size="1.8"><tspan x="1594.5">Status</tspan><tspan x="1594.5" dy="3">filter on</tspan><tspan x="1594.5" dy="3">progress</tspan></text></g>
<g id="n114" class="n"><rect class="p" x="1587" y="394" width="15" height="15"/><text x="1594.5" y="398.5" font-size="1.8"><tspan x="1594.5">Filter by</tspan><tspan x="1594.5" dy="3">progress</tspan><tspan x="1594.5" dy="3">to me</tspan></text></g>
<g id="n115" class="n"><rect class="r" x="1587" y="414" width="15" height="15"/><text x="1594.5" y="419" font-size="1.4"><tspan x="1594.5">Cases</tspan><tspan x="1594.5" dy="2.5">with SLA</tspan><tspan x="1594.5" dy="2.5">breach</tspan></text></g>
<g id="n116" class="n"><rect class="p" x="1617" y="355" width="14" height="18"/><text x="1624" y="364" font-size="3.6">SLAs</text></g>
<g id="n117" class="n"><rect class="p" x="1617" y="377" width="14" height="15"/><text x="1624" y="382" font-size="1.4"><tspan x="1624">SLA icons</tspan><tspan x="1624" dy="2.5">on the case</tspan><tspan x="1624" dy="2.5">list</tspan></text></g>
<g id="n118" class="n"><rect class="o" x="1755" y="254" width="46" height="24"/><text x="1778" y="261.25" font-size="7"><tspan x="1778">Be in the</tspan><tspan x="1778" dy="9.5">zone</tspan></text></g>
<g id="n119" class="n"><rect class="y" x="1717" y="287" width="46" height="26"/><text x="1740" y="293.5" font-size="5.4"><tspan x="1740">Complete</tspan><tspan x="1740" dy="6.5">preparation to</tspan><tspan x="1740" dy="6.5">start my work</tspan></text></g>
<g id="n120" class="n"><rect class="y" x="1796" y="287" width="47" height="26"/><text x="1819.5" y="295.5" font-size="6.8"><tspan x="1819.5">Flow through</tspan><tspan x="1819.5" dy="9">my work plan</tspan></text></g>
<g id="n121" class="n"><rect class="g" x="1710" y="318" width="27" height="27"/><text x="1723.5" y="325.5" font-size="1.7"><tspan x="1723.5">Prepare a list of</tspan><tspan x="1723.5" dy="3">cases before</tspan><tspan x="1723.5" dy="3">continuing</tspan><tspan x="1723.5" dy="3">working through</tspan><tspan x="1723.5" dy="3">each one</tspan></text></g>
<g id="n122" class="n"><rect class="g" x="1740" y="318" width="27" height="27"/><text x="1753.5" y="327" font-size="1.7"><tspan x="1753.5">Work merely from</tspan><tspan x="1753.5" dy="3">cases that are</tspan><tspan x="1753.5" dy="3">assigned to me as</tspan><tspan x="1753.5" dy="3">management</tspan></text></g>
<g id="n123" class="n"><rect class="g" x="1792" y="318" width="26" height="27"/><text x="1805" y="327.15" font-size="1.6"><tspan x="1805">Update the case</tspan><tspan x="1805" dy="2.9">status and move to</tspan><tspan x="1805" dy="2.9">the next case without</tspan><tspan x="1805" dy="2.9">having to navigate</tspan></text></g>
<g id="n124" class="n"><rect class="g" x="1820" y="318" width="25" height="27"/><text x="1832.5" y="327.15" font-size="1.6"><tspan x="1832.5">Switch to multiple</tspan><tspan x="1832.5" dy="2.9">cases in one task</tspan><tspan x="1832.5" dy="2.9">without losing</tspan><tspan x="1832.5" dy="2.9">my progress</tspan></text></g>
<g id="n125" class="n"><rect class="g" x="1848" y="318" width="25" height="27"/><text x="1860.5" y="327" font-size="1.7"><tspan x="1860.5">Track my progress</tspan><tspan x="1860.5" dy="3">of working</tspan><tspan x="1860.5" dy="3">through the list</tspan><tspan x="1860.5" dy="3">of cases for the day</tspan></text></g>
<g id="n126" class="n"><rect class="g" x="1877" y="318" width="25" height="27"/><text x="1889.5" y="327" font-size="1.7"><tspan x="1889.5">Search for other</tspan><tspan x="1889.5" dy="3">case details in</tspan><tspan x="1889.5" dy="3">actioning the</tspan><tspan x="1889.5" dy="3">same case as me</tspan></text></g>
<g id="n127" class="n"><rect class="p" x="1715" y="350" width="15" height="16"/><text x="1722.5" y="355" font-size="1.8"><tspan x="1722.5">Assign</tspan><tspan x="1722.5" dy="3">cases to</tspan><tspan x="1722.5" dy="3">you</tspan></text></g>
<g id="n128" class="n"><rect class="p" x="1715" y="369" width="15" height="16"/><text x="1722.5" y="373.4" font-size="1.3"><tspan x="1722.5">Need to plan</tspan><tspan x="1722.5" dy="2.4">cases for the</tspan><tspan x="1722.5" dy="2.4">day or list</tspan><tspan x="1722.5" dy="2.4">through tasks</tspan></text></g>
<g id="n129" class="n"><rect class="p" x="1746" y="350" width="15" height="16"/><text x="1753.5" y="355" font-size="1.8"><tspan x="1753.5">Filter</tspan><tspan x="1753.5" dy="3">cases for</tspan><tspan x="1753.5" dy="3">day</tspan></text></g>
<g id="n130" class="n"><rect class="r" x="1746" y="370" width="15" height="15"/><text x="1753.5" y="373.9" font-size="1.3"><tspan x="1753.5">Not able to</tspan><tspan x="1753.5" dy="2.4">save a custom</tspan><tspan x="1753.5" dy="2.4">view of</tspan><tspan x="1753.5" dy="2.4">case list</tspan></text></g>
<g id="n131" class="n"><rect class="p" x="1798" y="352" width="14" height="15"/><text x="1805" y="355.9" font-size="1.3"><tspan x="1805">Next case</tspan><tspan x="1805" dy="2.4">button on</tspan><tspan x="1805" dy="2.4">the case</tspan><tspan x="1805" dy="2.4">details page</tspan></text></g>
<g id="n132" class="n"><rect class="r" x="1798" y="370" width="14" height="15"/><text x="1805" y="373.9" font-size="1.3"><tspan x="1805">Not obvious</tspan><tspan x="1805" dy="2.4">that there is</tspan><tspan x="1805" dy="2.4">a next button</tspan><tspan x="1805" dy="2.4">on the page</tspan></text></g>
<g id="n133" class="n"><rect class="r" x="1798" y="389" width="14" height="15"/><text x="1805" y="392.9" font-size="1.3"><tspan x="1805">Cannot</tspan><tspan x="1805" dy="2.4">multi-task</tspan><tspan x="1805" dy="2.4">between</tspan><tspan x="1805" dy="2.4">cases</tspan></text></g>
<g id="n134" class="n"><rect class="p" x="1853" y="352" width="14" height="15"/><text x="1860" y="355.6" font-size="1.6"><tspan x="1860">Use</tspan><tspan x="1860" dy="2.6">Assigned</tspan><tspan x="1860" dy="2.6">to me</tspan><tspan x="1860" dy="2.6">tab</tspan></text></g>
<g id="n135" class="n"><rect class="p" x="1853" y="371" width="14" height="15"/><text x="1860" y="374.9" font-size="1.3"><tspan x="1860">Mark cases</tspan><tspan x="1860" dy="2.4">as done</tspan><tspan x="1860" dy="2.4">in the</tspan><tspan x="1860" dy="2.4">progress</tspan></text></g>
<g id="n136" class="n"><rect class="p" x="1853" y="392" width="14" height="15"/><text x="1860" y="395.9" font-size="1.3"><tspan x="1860">Need to see</tspan><tspan x="1860" dy="2.4">the progress</tspan><tspan x="1860" dy="2.4">of my work</tspan><tspan x="1860" dy="2.4">day</tspan></text></g>
<g id="n137" class="n"><rect class="r" x="1853" y="410" width="14" height="15"/><text x="1860" y="412.7" font-size="1.3"><tspan x="1860">Not able</tspan><tspan x="1860" dy="2.4">to see the</tspan><tspan x="1860" dy="2.4">progress</tspan><tspan x="1860" dy="2.4">of my day</tspan><tspan x="1860" dy="2.4">tracked</tspan></text></g>
<g id="n138" class="n"><rect class="p" x="1882" y="352" width="15" height="15"/><text x="1889.5" y="356.5" font-size="1.8"><tspan x="1889.5">Assign</tspan><tspan x="1889.5" dy="3">cases to</tspan><tspan x="1889.5" dy="3">day</tspan></text></g>
<g id="n139" class="n"><rect class="r" x="1882" y="370" width="15" height="15"/><text x="1889.5" y="373.9" font-size="1.3"><tspan x="1889.5">Can't search</tspan><tspan x="1889.5" dy="2.4">or filter</tspan><tspan x="1889.5" dy="2.4">cases by</tspan><tspan x="1889.5" dy="2.4">other users</tspan></text></g>

<!-- Bottom comment notes -->
<g id="c1" class="bn"><rect class="box" x="1142" y="472" width="50" height="28"/><rect x="1142" y="472" width="1.4" height="28" fill="#e0806f"/><text x="1145" y="475.7" font-size="4.6"><tspan x="1145">Mass Assign is</tspan><tspan x="1145" dy="4.5">usable but needed</tspan><tspan x="1145" dy="4.5">prompting to</tspan><tspan x="1145" dy="4.5">discover and is of</tspan></text></g>
<g id="c2" class="bn"><rect class="box" x="1142" y="503" width="50" height="30"/><rect x="1142" y="503" width="1.4" height="30" fill="#666"/><text x="1145" y="506.7" font-size="4.6"><tspan x="1145">As a case solver,</tspan><tspan x="1145" dy="4.4">case assignment is</tspan><tspan x="1145" dy="4.4">the most frequent</tspan><tspan x="1145" dy="4.4">task and time</tspan></text></g>
<g id="c3" class="bn"><rect class="box" x="1196" y="503" width="63" height="30"/><rect x="1196" y="503" width="1.4" height="30" fill="#666"/><text x="1200" y="507.7" font-size="6.4"><tspan x="1200">The process of</tspan><tspan x="1200" dy="6.3">assigning cases</tspan><tspan x="1200" dy="6.3">varies across HR</tspan></text></g>
<g id="c4" class="bn"><rect class="box" x="1263" y="503" width="57" height="30"/><rect x="1263" y="503" width="1.4" height="30" fill="#666"/><text x="1266" y="505.8" font-size="2.2"><tspan x="1266">When employees open a case,</tspan><tspan x="1266" dy="2.8">we would like them see broad</tspan><tspan x="1266" dy="2.8">categories to choose from so</tspan><tspan x="1266" dy="2.8">they can rely on recognition</tspan><tspan x="1266" dy="2.8">rather than trying to</tspan><tspan x="1266" dy="2.8">understand what category.</tspan></text></g>

<g id="connectors">
<path class="conn" d="M453,445 C471,448 472,488 453,490"/>
</g>
</svg>
